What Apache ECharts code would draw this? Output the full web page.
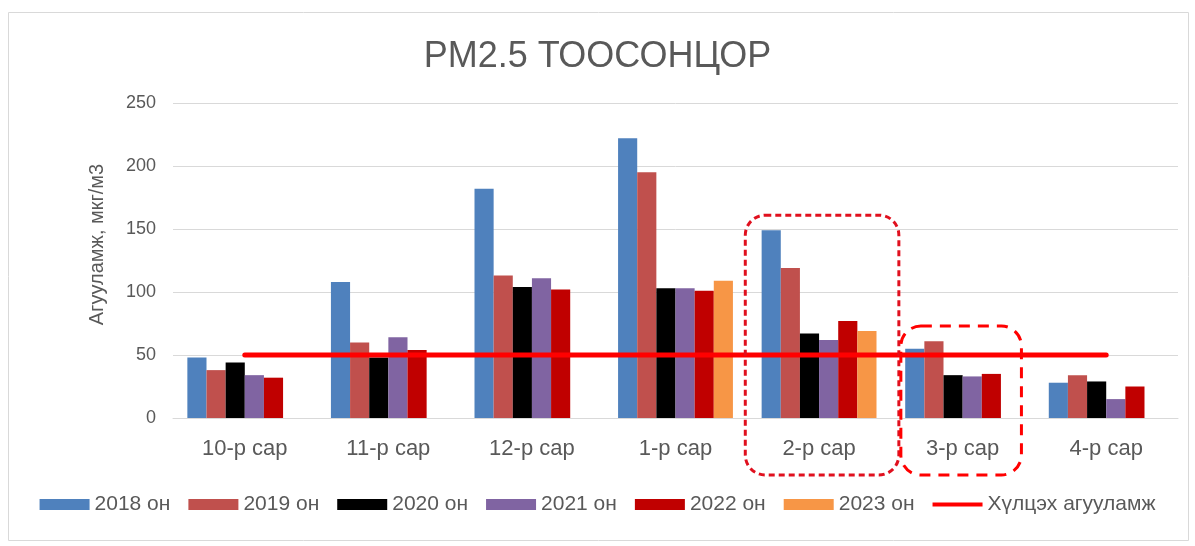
<!DOCTYPE html>
<html>
<head>
<meta charset="utf-8">
<script src="https://cdn.jsdelivr.net/npm/echarts@6/dist/echarts.min.js"></script>
<style>
html,body{margin:0;padding:0;background:#fff;}
#chart{width:1195px;height:546px;}
</style>
</head>
<body>
<div id="chart"></div>
<script>
const categories = ['10-р сар','11-р сар','12-р сар','1-р сар','2-р сар','3-р сар','4-р сар'];
const yAxisTicks = [0, 50, 100, 150, 200, 250];
const s2018 = [48, 108, 182, 222, 149, 55, 28];
const s2019 = [38, 60, 113, 195, 119, 61, 34];
const s2020 = [44, 48, 104, 103, 67, 34, 29];
const s2021 = [34, 64, 111, 103, 62, 33, 15];
const s2022 = [32, 54, 102, 101, 77, 35, 25];
const s2023 = [null, null, null, 109, 69, null, null];
const limit = [50, 50, 50, 50, 50, 50, 50];
const seriesNames = ['2018 он','2019 он','2020 он','2021 он','2022 он','2023 он','Хүлцэх агууламж'];
const colors = ['#4F81BD','#C0504D','#000000','#8064A2','#C00000','#F79646','#FF0000'];

const chart = echarts.init(document.getElementById('chart'));
const txt = '#595959';
const font = '"Liberation Sans", Arial, sans-serif';
const barData = [s2018, s2019, s2020, s2021, s2022, s2023];
const series = barData.map((d, i) => ({
  name: seriesNames[i], type: 'bar', data: d,
  itemStyle: { color: colors[i] },
  barGap: '0%', barCategoryGap: '20%'
}));
series.push({
  name: seriesNames[6], type: 'line', data: limit,
  symbol: 'none', showSymbol: false,
  lineStyle: { color: colors[6], width: 5, cap: 'round' },
  itemStyle: { color: colors[6] },
  z: 5
});
const option = {
  animation: false,
  textStyle: { fontFamily: font },
  title: {
    text: 'PM2.5 ТООСОНЦОР', left: 'center', top: 34,
    textStyle: { fontFamily: font, fontSize: 36, fontWeight: 'normal', color: txt }
  },
  grid: { left: 173, right: 17, top: 103, bottom: 128 },
  legend: {
    top: 489, left: 'center',
    itemWidth: 50, itemHeight: 11, itemGap: 18,
    textStyle: { fontFamily: font, fontSize: 21, color: txt },
    data: seriesNames.map((n, i) => i === 6 ? { name: n, icon: 'path://M0,0 L50,0 L50,4 L0,4 Z' } : { name: n, icon: 'rect' })
  },
  xAxis: {
    type: 'category', data: categories,
    axisLine: { lineStyle: { color: '#d9d9d9' } },
    axisTick: { show: false },
    axisLabel: { color: txt, fontSize: 22, margin: 20, fontFamily: font }
  },
  yAxis: {
    type: 'value', min: yAxisTicks[0], max: yAxisTicks[yAxisTicks.length - 1], interval: 50,
    name: 'Агууламж, мкг/м3', nameLocation: 'middle', nameGap: 66, nameRotate: 90,
    nameTextStyle: { color: txt, fontSize: 20, fontFamily: font, padding: [0, 0, 0, 32] },
    axisLine: { show: false }, axisTick: { show: false },
    axisLabel: { color: txt, fontSize: 18, margin: 17, fontFamily: font },
    splitLine: { lineStyle: { color: '#d9d9d9', width: 1 } }
  },
  series: series
};
chart.setOption(option);

// annotation frames anchored to categories via the chart's scales
function px(ci, v) { return chart.convertToPixel({ gridIndex: 0 }, [ci, v]); }
const band = px(1, 0)[0] - px(0, 0)[0];
const feb = px(4, 161), mar = px(5, 73), base = px(4, 0);
const bottomY = base[1] + 57;
const f1L = feb[0] - band / 2 - 2, f1R = feb[0] + band / 2 + 8;
const f2L = f1R + 2, f2R = mar[0] + band / 2 - 13;
chart.setOption({
  graphic: [
    { type: 'rect', shape: { x: 8.5, y: 12.5, width: 1180, height: 528 }, style: { fill: 'none', stroke: '#d9d9d9', lineWidth: 1 }, silent: true },
    { type: 'rect', shape: { x: f1L, y: feb[1], width: f1R - f1L, height: bottomY - feb[1], r: 20 },
      style: { fill: 'none', stroke: '#E0101E', lineWidth: 3, lineDash: [6, 4] }, z: 10, silent: true },
    { type: 'rect', shape: { x: f2L, y: mar[1], width: f2R - f2L, height: bottomY - mar[1], r: 20 },
      style: { fill: 'none', stroke: '#FF0000', lineWidth: 3, lineDash: [11, 8] }, z: 10, silent: true }
  ]
});
</script>
</body>
</html>
